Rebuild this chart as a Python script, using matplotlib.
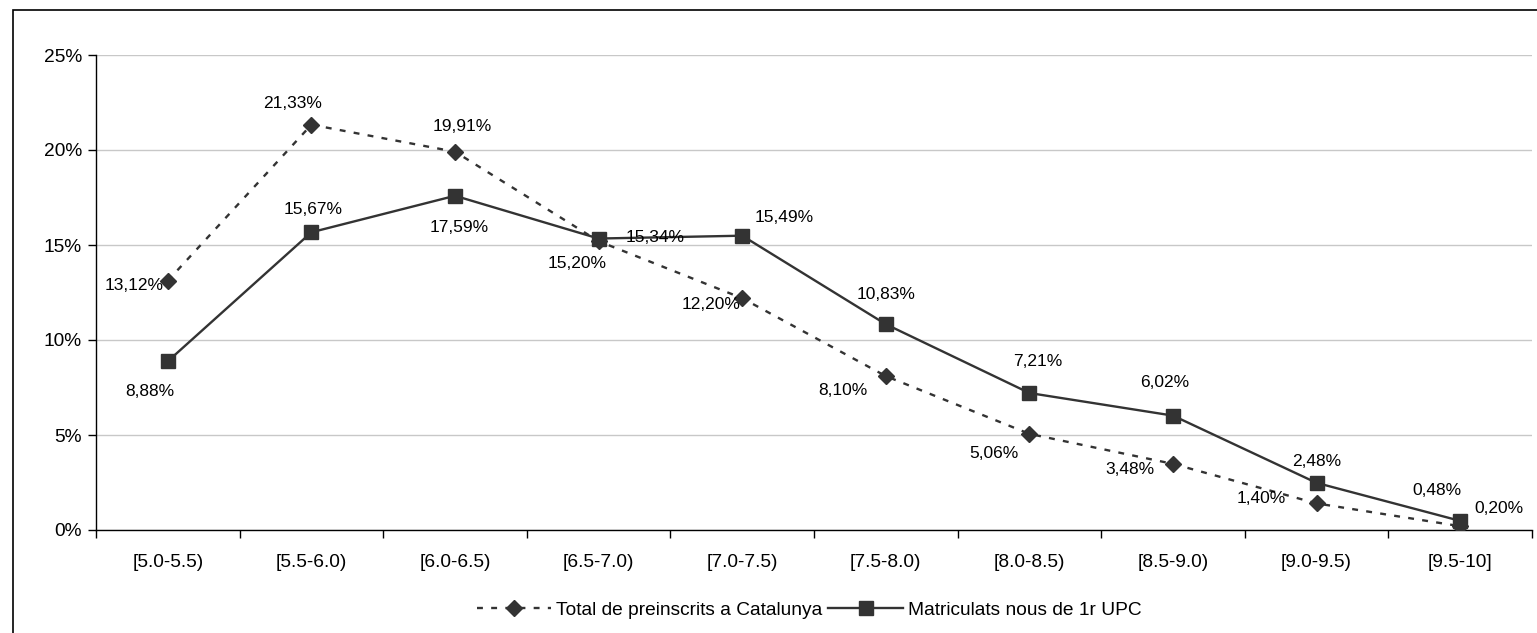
import matplotlib.pyplot as plt
from matplotlib.patches import Rectangle
from matplotlib.ticker import FixedLocator

plt.rcParams['font.family'] = ['Liberation Sans', 'DejaVu Sans']

# categories and series
cats = ['[5.0-5.5)', '[5.5-6.0)', '[6.0-6.5)', '[6.5-7.0)', '[7.0-7.5)',
        '[7.5-8.0)', '[8.0-8.5)', '[8.5-9.0)', '[9.0-9.5)', '[9.5-10]']
total_cat = [13.12, 21.33, 19.91, 15.20, 12.20, 8.10, 5.06, 3.48, 1.40, 0.20]
matric_upc = [8.88, 15.67, 17.59, 15.34, 15.49, 10.83, 7.21, 6.02, 2.48, 0.48]

name_cat = 'Total de preinscrits a Catalunya'
name_upc = 'Matriculats nous de 1r UPC'

# label offsets in pixels (label centre relative to the point)
off_cat = [(-34, -5), (-19, 21), (7, 25), (-21, -22), (-31, -6),
           (-43, -14), (-35, -20), (-43, -6), (-55, 5), (39, 18)]
off_upc = [(-18, -30), (2, 23), (4, -32), (57, 1), (42, 18),
           (0, 30), (8, 32), (-8, 33), (0, 21), (-23, 30)]

W, H = 1537, 633
fig = plt.figure(figsize=(W / 100, H / 100), dpi=100)
ax = fig.add_axes([96 / W, 1 - 530 / H, (1532 - 96) / W, (530 - 55) / H])

# outer frame of the chart area
fig.patches.append(Rectangle((13 / W, -0.1), 1.2, 1 - 10 / H + 0.1,
                             transform=fig.transFigure, fill=False,
                             edgecolor='black', linewidth=1.2))

col = '#333333'
fs_lab = 12.5
fs_tick = 13.8
x = list(range(len(cats)))
ax.plot(x, total_cat, color=col, linestyle=(0, (2.5, 3.5)), linewidth=1.7,
        marker='D', markersize=8.5, markerfacecolor=col, markeredgecolor=col,
        label=name_cat, zorder=3)
ax.plot(x, matric_upc, color=col, linestyle='-', linewidth=1.7,
        marker='s', markersize=10, markerfacecolor=col, markeredgecolor=col,
        label=name_upc, zorder=3)

for xi, v, (dx, dy) in zip(x, total_cat, off_cat):
    ax.annotate(f'{v:.2f}%'.replace('.', ','), (xi, v), xytext=(dx, dy),
                textcoords='offset pixels', ha='center', va='center',
                fontsize=fs_lab, zorder=4)
for xi, v, (dx, dy) in zip(x, matric_upc, off_upc):
    ax.annotate(f'{v:.2f}%'.replace('.', ','), (xi, v), xytext=(dx, dy),
                textcoords='offset pixels', ha='center', va='center',
                fontsize=fs_lab, zorder=4)

ax.set_xlim(-0.5, len(cats) - 0.5)
ax.set_ylim(0, 25)
ax.set_yticks([0, 5, 10, 15, 20, 25])
ax.set_yticklabels([f'{t}%' for t in [0, 5, 10, 15, 20, 25]], fontsize=fs_tick)
ax.set_xticks(x)
ax.set_xticklabels(cats, fontsize=fs_tick)
ax.xaxis.set_minor_locator(FixedLocator([i - 0.5 for i in range(len(cats) + 1)]))
ax.tick_params(axis='x', which='major', length=0, pad=17)
ax.tick_params(axis='x', which='minor', length=6, width=1, color='black')
ax.tick_params(axis='y', length=6, width=1, pad=4)

ax.grid(axis='y', color='#c8c8c8', linewidth=1)
ax.set_axisbelow(True)
for s in ['top', 'right']:
    ax.spines[s].set_visible(False)
for s in ['left', 'bottom']:
    ax.spines[s].set_linewidth(1)
    ax.spines[s].set_color('black')

fig.legend(loc='center', bbox_to_anchor=(809 / W, 1 - 610 / H), ncol=2,
           frameon=False, fontsize=fs_tick, handlelength=3.9, handletextpad=0.25,
           columnspacing=0.3)

fig.savefig('out.png', dpi=100)
